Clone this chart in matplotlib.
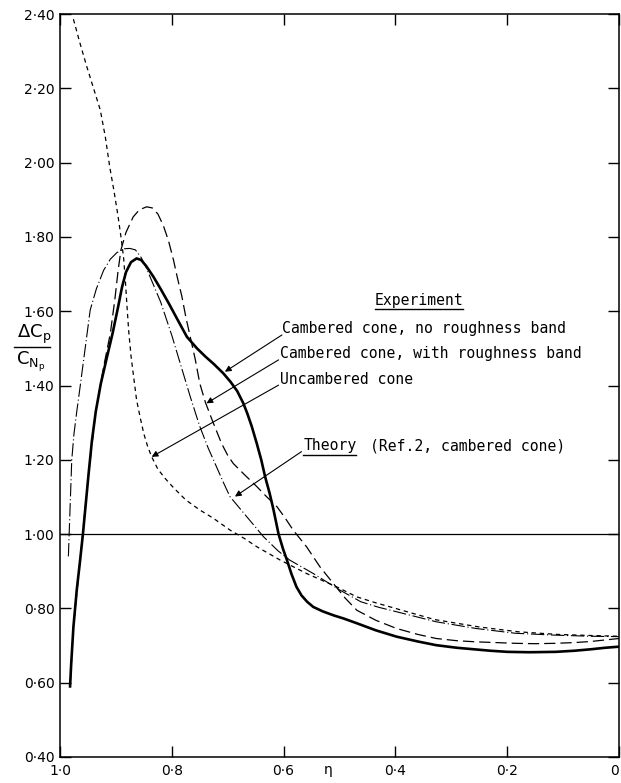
import matplotlib
matplotlib.use("Agg")
import matplotlib.pyplot as plt
from matplotlib.ticker import FixedLocator

# Experiment: cambered cone, no roughness band (thick solid)
eta_plain = [0.982, 0.980, 0.976, 0.970, 0.964, 0.959, 0.954, 0.949, 0.943, 0.936,
             0.927, 0.917, 0.906, 0.896, 0.889, 0.882, 0.873, 0.863, 0.855,
             0.846, 0.833, 0.820, 0.805, 0.790, 0.773, 0.755, 0.740, 0.725, 0.708,
             0.695, 0.683, 0.672, 0.665, 0.657, 0.648, 0.640, 0.633, 0.625, 0.618,
             0.609, 0.601, 0.594, 0.586, 0.577, 0.568, 0.558, 0.547, 0.530, 0.510,
             0.493, 0.469, 0.435, 0.398, 0.360, 0.327, 0.290, 0.260, 0.230, 0.199,
             0.160, 0.114, 0.080, 0.050, 0.025, 0.0]
cp_plain = [0.59, 0.65, 0.75, 0.85, 0.93, 1.00, 1.08, 1.16, 1.25, 1.33,
            1.405, 1.47, 1.54, 1.612, 1.665, 1.705, 1.732, 1.742, 1.738,
            1.722, 1.693, 1.660, 1.620, 1.578, 1.531, 1.500, 1.478, 1.458, 1.433,
            1.410, 1.385, 1.352, 1.325, 1.290, 1.244, 1.200, 1.154, 1.110, 1.065,
            1.000, 0.960, 0.930, 0.893, 0.858, 0.835, 0.818, 0.804, 0.792, 0.781,
            0.773, 0.760, 0.741, 0.724, 0.711, 0.701, 0.694, 0.690, 0.686, 0.683,
            0.682, 0.683, 0.686, 0.690, 0.694, 0.697]

# Experiment: cambered cone, with roughness band (long dash)
eta_rough = [0.982, 0.976, 0.964, 0.949, 0.936, 0.922, 0.910, 0.902, 0.896, 0.891,
             0.882, 0.869, 0.858, 0.845, 0.835, 0.825, 0.815, 0.806, 0.797, 0.790,
             0.782, 0.775, 0.767, 0.758, 0.750, 0.740, 0.726, 0.711, 0.700, 0.690,
             0.670, 0.648, 0.630, 0.612, 0.598, 0.583, 0.559, 0.535, 0.511, 0.490,
             0.469, 0.435, 0.398, 0.360, 0.327, 0.290, 0.256, 0.220, 0.185, 0.150,
             0.114, 0.080, 0.050, 0.025, 0.0]
cp_rough = [0.59, 0.75, 0.93, 1.16, 1.33, 1.45, 1.54, 1.63, 1.71, 1.765,
            1.812, 1.854, 1.873, 1.881, 1.878, 1.862, 1.830, 1.790, 1.738, 1.690,
            1.640, 1.585, 1.531, 1.470, 1.406, 1.355, 1.300, 1.244, 1.212, 1.190,
            1.160, 1.128, 1.100, 1.074, 1.045, 1.011, 0.966, 0.912, 0.867, 0.828,
            0.795, 0.768, 0.746, 0.730, 0.719, 0.713, 0.710, 0.708, 0.706, 0.705,
            0.706, 0.708, 0.711, 0.715, 0.719]

# Experiment: uncambered cone (short dash)
eta_unc = [0.976, 0.964, 0.952, 0.940, 0.928, 0.919, 0.911, 0.903, 0.896, 0.890,
           0.886, 0.883, 0.880, 0.877, 0.873, 0.868, 0.863, 0.856, 0.850, 0.843,
           0.836, 0.825, 0.812, 0.797, 0.775, 0.750, 0.726, 0.696, 0.670, 0.648,
           0.606, 0.559, 0.505, 0.469, 0.435, 0.40, 0.33, 0.25, 0.18, 0.11,
           0.05, 0.0]
cp_unc = [2.386, 2.320, 2.258, 2.200, 2.142, 2.070, 1.988, 1.920, 1.854, 1.790,
          1.740, 1.680, 1.610, 1.545, 1.480, 1.420, 1.361, 1.310, 1.270, 1.235,
          1.208, 1.175, 1.150, 1.125, 1.092, 1.065, 1.043, 1.011, 0.988, 0.966,
          0.930, 0.894, 0.858, 0.831, 0.815, 0.800, 0.770, 0.750, 0.737, 0.730,
          0.727, 0.725]

# Theory (Ref. 2, cambered cone) (dash-dot)
eta_th = [0.985, 0.982, 0.979, 0.975, 0.970, 0.964, 0.955, 0.946, 0.935, 0.922,
          0.910, 0.898, 0.885, 0.875, 0.865, 0.855, 0.845, 0.839, 0.820, 0.800,
          0.785, 0.767, 0.750, 0.735, 0.720, 0.708, 0.696, 0.666, 0.636, 0.610,
          0.589, 0.547, 0.499, 0.462, 0.430, 0.398, 0.327, 0.256, 0.185, 0.114,
          0.050, 0.0]
cp_th = [0.94, 1.07, 1.199, 1.27, 1.33, 1.397, 1.50, 1.603, 1.66, 1.71,
         1.74, 1.758, 1.768, 1.769, 1.765, 1.745, 1.715, 1.693, 1.625, 1.535,
         1.460, 1.370, 1.290, 1.232, 1.181, 1.140, 1.101, 1.047, 0.993, 0.955,
         0.930, 0.894, 0.849, 0.818, 0.803, 0.791, 0.764, 0.746, 0.733, 0.728,
         0.725, 0.724]

x_ticks = [1.0, 0.8, 0.6, 0.4, 0.2, 0.0]
x_labels = ["1·0", "0·8", "0·6", "0·4", "0·2", "0"]
y_ticks = [0.40, 0.60, 0.80, 1.00, 1.20, 1.40, 1.60, 1.80, 2.00, 2.20, 2.40]
y_labels = ["0·40", "0·60", "0·80", "1·00", "1·20", "1·40", "1·60", "1·80", "2·00", "2·20", "2·40"]

fig = plt.figure(figsize=(6.21, 7.83), dpi=100)
ax = fig.add_axes([60 / 621, 26 / 783, 559 / 621, 743 / 783])

ax.plot(eta_plain, cp_plain, color="black", lw=1.9)
ax.plot(eta_rough, cp_rough, color="black", lw=0.9, dashes=(9, 4))
ax.plot(eta_unc, cp_unc, color="black", lw=0.9, dashes=(3.5, 3))
ax.plot(eta_th, cp_th, color="black", lw=0.8, dashes=(12, 2.5, 1, 2.5))
ax.axhline(1.0, color="black", lw=0.9)

ax.set_xlim(1.0, 0.0)
ax.set_ylim(0.40, 2.40)
ax.xaxis.set_major_locator(FixedLocator(x_ticks))
ax.set_xticklabels(x_labels)
ax.yaxis.set_major_locator(FixedLocator(y_ticks))
ax.set_yticklabels(y_labels)
ax.tick_params(direction="in", length=8, width=1.0, top=True, right=True,
               labelsize=10, pad=4)
ax.tick_params(axis="x", pad=5)
ax.get_xticklabels()[-1].set_ha("right")
for s in ax.spines.values():
    s.set_linewidth(1.1)

ax.text(0.52, -0.0175, "η", transform=ax.get_xaxis_transform(),
        ha="center", va="center", fontsize=10)

# y label drawn as a stacked fraction
fig.text(34 / 621, 1 - 334 / 783, r"$\mathrm{\Delta C_p}$",
         ha="center", va="center", fontsize=13)
fig.text(31 / 621, 1 - 362 / 783, r"$\mathrm{C_{N_p}}$",
         ha="center", va="center", fontsize=13)
fig.add_artist(plt.Line2D([14 / 621, 50 / 621], [1 - 347 / 783] * 2,
                          color="black", lw=1.0, transform=fig.transFigure))

font = dict(family="DejaVu Sans Mono", fontsize=10.6, color="black")
exp = ax.text(0.358, 1.630, "Experiment", ha="center", va="center", **font)
ax.text(0.603, 1.553, "Cambered cone, no roughness band", ha="left", va="center", **font)
ax.text(0.606, 1.486, "Cambered cone, with roughness band", ha="left", va="center", **font)
ax.text(0.606, 1.416, "Uncambered cone", ha="left", va="center", **font)
theory = ax.text(0.565, 1.238, "Theory", ha="left", va="center", **font)
ax.text(0.445, 1.238, "(Ref.2, cambered cone)", ha="left", va="center", **font)

arrow = dict(arrowstyle="-|>", color="black", lw=0.8, mutation_scale=9,
             shrinkA=0, shrinkB=0)
ax.annotate("", xy=(0.705, 1.437), xytext=(0.603, 1.536), arrowprops=arrow)
ax.annotate("", xy=(0.738, 1.352), xytext=(0.609, 1.469), arrowprops=arrow)
ax.annotate("", xy=(0.836, 1.208), xytext=(0.609, 1.401), arrowprops=arrow)
ax.annotate("", xy=(0.687, 1.101), xytext=(0.568, 1.222), arrowprops=arrow)

# underline "Experiment" and "Theory"
fig.canvas.draw()
inv = fig.transFigure.inverted()
for t in (exp, theory):
    bb = t.get_window_extent()
    (x0, y0), (x1, y1) = inv.transform([[bb.x0, bb.y0], [bb.x1, bb.y1]])
    fig.add_artist(plt.Line2D([x0, x1], [y0 - 0.002, y0 - 0.002],
                              color="black", lw=1.0, transform=fig.transFigure))

fig.savefig("out.png", dpi=100)
